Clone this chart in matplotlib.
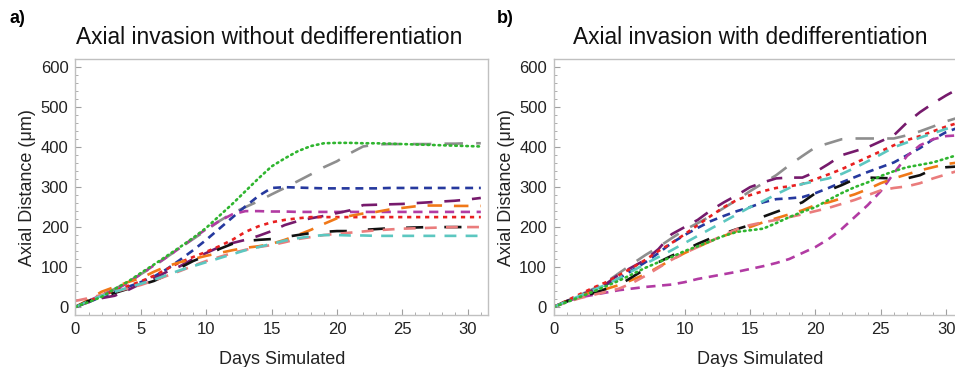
import matplotlib.pyplot as plt
from matplotlib.ticker import MultipleLocator

plt.rcParams['font.family'] = ['Liberation Sans', 'DejaVu Sans']

days = list(range(32))

# panel a: without dedifferentiation
gray_a = [0, 15, 30, 45, 62, 82, 102, 125, 148, 170, 192, 215, 235, 250, 265, 282,
          298, 315, 332, 350, 365, 385, 402, 407, 408, 408, 408, 408, 409, 409, 410, 410]
green_a = [0, 12, 25, 45, 63, 85, 106, 128, 150, 173, 198, 228, 258, 290, 322, 352,
           372, 390, 403, 410, 411, 411, 410, 410, 409, 408, 407, 406, 405, 404, 403, 402]
blue_a = [0, 12, 25, 38, 50, 62, 76, 95, 118, 142, 168, 196, 224, 252, 278, 298,
          300, 299, 298, 297, 297, 297, 297, 297, 298, 298, 298, 298, 298, 298, 298, 298]
magenta_a = [0, 15, 30, 42, 60, 82, 104, 125, 148, 172, 195, 215, 232, 240, 240, 239,
             239, 238, 238, 238, 238, 238, 238, 238, 238, 238, 238, 238, 238, 238, 238, 238]
purple_a = [0, 12, 22, 28, 42, 58, 72, 88, 102, 120, 135, 150, 160, 168, 178, 190,
            205, 215, 222, 228, 235, 242, 255, 256, 257, 258, 260, 262, 264, 266, 269, 273]
red_a = [0, 14, 28, 40, 52, 64, 78, 95, 112, 125, 138, 152, 168, 188, 202, 212,
         218, 222, 225, 225, 225, 225, 225, 225, 225, 225, 225, 225, 225, 225, 225, 225]
orange_a = [0, 18, 38, 50, 62, 72, 88, 102, 112, 120, 128, 135, 142, 148, 152, 158,
            168, 180, 193, 208, 222, 228, 234, 238, 244, 248, 252, 254, 254, 253, 253, 253]
black_a = [0, 15, 25, 35, 45, 55, 65, 80, 98, 115, 128, 145, 158, 165, 168, 170,
           175, 180, 185, 188, 190, 190, 193, 195, 197, 198, 199, 200, 200, 200, 200, 200]
salmon_a = [15, 22, 30, 38, 46, 55, 66, 78, 90, 103, 115, 125, 135, 143, 150, 155,
            162, 170, 175, 180, 183, 186, 189, 192, 194, 196, 197, 198, 199, 200, 200, 200]
cyan_a = [0, 14, 28, 38, 48, 58, 68, 80, 92, 102, 112, 122, 132, 142, 150, 158,
          166, 172, 177, 180, 180, 179, 179, 178, 178, 178, 178, 178, 178, 178, 178, 178]

# panel b: with dedifferentiation
gray_b = [0, 15, 30, 45, 62, 85, 108, 130, 150, 172, 193, 210, 228, 248, 268, 290,
          310, 330, 355, 378, 400, 410, 420, 422, 422, 422, 422, 430, 440, 452, 465, 475]
green_b = [0, 12, 25, 38, 52, 66, 82, 98, 112, 125, 140, 152, 165, 178, 188, 192,
           196, 210, 225, 238, 250, 268, 285, 300, 312, 328, 340, 350, 356, 362, 372, 382]
blue_b = [0, 14, 28, 42, 56, 72, 92, 112, 135, 160, 180, 198, 215, 228, 240, 250,
          262, 270, 272, 275, 285, 298, 312, 325, 338, 350, 362, 380, 398, 420, 438, 450]
magenta_b = [0, 14, 24, 30, 36, 42, 46, 50, 53, 56, 62, 70, 76, 82, 88, 95,
             102, 110, 120, 135, 150, 170, 195, 225, 255, 290, 335, 378, 405, 420, 428, 430]
purple_b = [0, 15, 28, 42, 58, 82, 100, 118, 145, 182, 200, 218, 242, 262, 280, 300,
            312, 322, 324, 324, 338, 358, 380, 390, 400, 415, 430, 462, 488, 510, 530, 548]
red_b = [0, 16, 32, 48, 62, 80, 98, 118, 140, 160, 182, 205, 228, 250, 268, 280,
         290, 298, 302, 308, 320, 332, 345, 360, 375, 390, 405, 418, 428, 440, 452, 462]
orange_b = [0, 15, 28, 38, 45, 55, 68, 82, 100, 118, 135, 150, 165, 178, 190, 200,
            212, 222, 232, 242, 255, 262, 272, 282, 295, 310, 322, 332, 342, 350, 358, 362]
black_b = [0, 14, 24, 34, 45, 55, 75, 95, 112, 128, 142, 158, 172, 184, 195, 205,
           226, 238, 250, 262, 285, 292, 305, 320, 324, 323, 322, 322, 330, 345, 350, 352]
salmon_b = [0, 12, 22, 30, 38, 46, 60, 78, 98, 118, 135, 150, 165, 180, 195, 205,
            212, 218, 225, 232, 240, 248, 258, 268, 280, 292, 298, 302, 310, 322, 332, 342]
cyan_b = [0, 14, 28, 42, 56, 72, 90, 108, 125, 142, 160, 178, 196, 214, 232, 250,
          265, 282, 298, 308, 315, 322, 333, 348, 365, 382, 400, 412, 424, 435, 446, 456]

# colour, dash pattern (in linewidths)
styles = {
    'gray': ('#8e8e8e', (7, 5)),
    'green': ('#2fb52f', (0.6, 1.5)),
    'blue': ('#26399e', (3, 2.2)),
    'magenta': ('#b23ba3', (3.5, 2.5)),
    'purple': ('#761a6c', (6, 4.5)),
    'red': ('#e82020', (1.6, 1.8)),
    'orange': ('#f07818', (5.5, 4.5)),
    'black': ('#111111', (6.5, 8)),
    'salmon': ('#ea7c7c', (4.5, 3.5)),
    'cyan': ('#5cc7c0', (4.5, 3.5)),
}

series_a = {'gray': gray_a, 'blue': blue_a, 'magenta': magenta_a, 'purple': purple_a,
            'red': red_a, 'orange': orange_a, 'black': black_a, 'salmon': salmon_a,
            'cyan': cyan_a, 'green': green_a}
series_b = {'gray': gray_b, 'blue': blue_b, 'magenta': magenta_b, 'purple': purple_b,
            'red': red_b, 'orange': orange_b, 'black': black_b, 'salmon': salmon_b,
            'cyan': cyan_b, 'green': green_b}

fig = plt.figure(figsize=(9.55, 3.67), dpi=100)
ax_a = fig.add_axes([0.079, 0.142, 0.432, 0.696])
ax_b = fig.add_axes([0.580, 0.142, 0.432, 0.696])


def draw_panel(ax, series):
    for name, vals in series.items():
        color, dash = styles[name]
        line, = ax.plot(days, vals, color=color, lw=1.9)
        line.set_dashes(dash)
        if name == 'green':
            line.set_dash_capstyle('round')
    ax.set_xlim(0, 31.55)
    ax.set_ylim(-20, 620)
    ax.xaxis.set_major_locator(MultipleLocator(5))
    ax.xaxis.set_minor_locator(MultipleLocator(1))
    ax.yaxis.set_major_locator(MultipleLocator(100))
    ax.yaxis.set_minor_locator(MultipleLocator(20))
    ax.tick_params(which='both', direction='in', color='#a0a0a0', top=False, right=False,
                   labelsize=12, labelcolor='#222222')
    ax.tick_params(which='major', length=4, width=0.8, pad=5)
    ax.tick_params(which='minor', length=2.5, width=0.6)
    for sp in ax.spines.values():
        sp.set_color('#c0c0c0')
        sp.set_linewidth(1.0)
    ax.set_xlabel('Days Simulated', fontsize=13, color='#222222', labelpad=10)
    ax.set_ylabel('Axial Distance (μm)', fontsize=13, color='#222222', labelpad=3)


draw_panel(ax_a, series_a)
draw_panel(ax_b, series_b)

fig.text(0.282, 0.899, 'Axial invasion without dedifferentiation', ha='center', va='center',
         fontsize=16.4, color='#111111')
fig.text(0.786, 0.899, 'Axial invasion with dedifferentiation', ha='center', va='center',
         fontsize=16.4, color='#111111')
fig.text(0.010, 0.950, 'a)', ha='left', va='center', fontsize=13, fontweight='bold')
fig.text(0.520, 0.950, 'b)', ha='left', va='center', fontsize=13, fontweight='bold')

fig.savefig('out.png', dpi=100)
